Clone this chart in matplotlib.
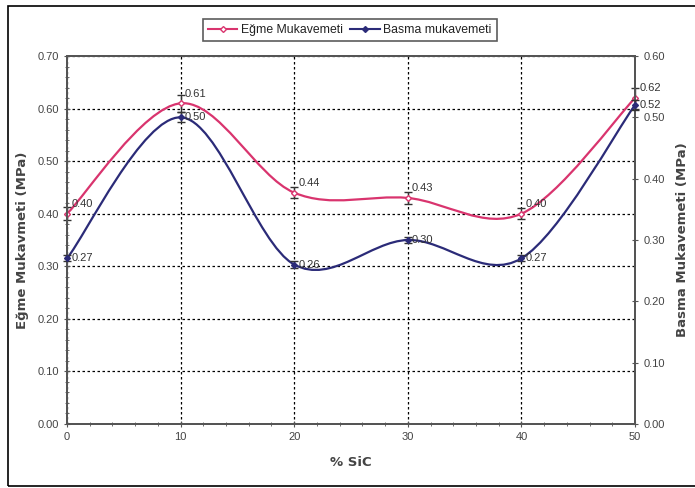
import matplotlib
matplotlib.use("Agg")
import matplotlib.pyplot as plt
from matplotlib.path import Path
from matplotlib.patches import PathPatch, Rectangle
from matplotlib.lines import Line2D
from matplotlib.ticker import MultipleLocator

plt.rcParams['font.family'] = ['Liberation Sans', 'DejaVu Sans']

# data
sic = [0, 10, 20, 30, 40, 50]
egme = [0.40, 0.61, 0.44, 0.43, 0.40, 0.62]
egme_err = [0.012, 0.016, 0.010, 0.012, 0.010, 0.020]
basma = [0.27, 0.50, 0.26, 0.30, 0.27, 0.52]
basma_err = [0.005, 0.008, 0.005, 0.005, 0.005, 0.008]
egme_labels = ['0.40', '0.61', '0.44', '0.43', '0.40', '0.62']
basma_labels = ['0.27', '0.50', '0.26', '0.30', '0.27', '0.52']

pink = '#d9346e'
navy = '#2b2b78'
grey = '#444444'


def smooth_path(xs, ys):
    # Excel-style smoothed line: cubic Bezier segments through the points
    verts = [(xs[0], ys[0])]
    codes = [Path.MOVETO]
    n = len(xs)
    for i in range(n - 1):
        x0, y0 = (xs[i - 1], ys[i - 1]) if i > 0 else (xs[i], ys[i])
        x1, y1 = xs[i], ys[i]
        x2, y2 = xs[i + 1], ys[i + 1]
        x3, y3 = (xs[i + 2], ys[i + 2]) if i + 2 < n else (x2, y2)
        c1 = (x1 + (x2 - x0) / 6, y1 + (y2 - y0) / 6)
        c2 = (x2 - (x3 - x1) / 6, y2 - (y3 - y1) / 6)
        verts += [c1, c2, (x2, y2)]
        codes += [Path.CURVE4] * 3
    return Path(verts, codes)


fig = plt.figure(figsize=(6.95, 4.88), dpi=100)
fig.patches.append(Rectangle((8 / 695, 2 / 488), 700 / 695, 480 / 488,
                             transform=fig.transFigure, fill=False,
                             edgecolor='black', linewidth=1.2))

ax = fig.add_axes([67 / 695, 64 / 488, 568 / 695, 368 / 488])
ax2 = ax.twinx()

ax.set_xlim(0, 50)
ax.set_ylim(0, 0.70)
ax2.set_ylim(0, 0.60)

ax.add_patch(PathPatch(smooth_path(sic, egme), fill=False, edgecolor=pink, linewidth=1.6, zorder=3))
ax2.add_patch(PathPatch(smooth_path(sic, basma), fill=False, edgecolor=navy, linewidth=1.6, zorder=3))

ax.errorbar(sic, egme, yerr=egme_err, fmt='D', ms=3, mfc='white', mec=pink,
            ecolor='#333333', elinewidth=1, capsize=3, clip_on=False, zorder=4)
ax2.errorbar(sic, basma, yerr=basma_err, fmt='D', ms=3, mfc=navy, mec=navy,
             ecolor='#333333', elinewidth=1, capsize=3, clip_on=False, zorder=4)

for x, y, t in zip(sic, egme, egme_labels):
    ax.annotate(t, (x, y), xytext=(3, 7), textcoords='offset points',
                fontsize=8, color='#333333', va='center', annotation_clip=False)
for x, y, t in zip(sic, basma, basma_labels):
    ax2.annotate(t, (x, y), xytext=(3, 0), textcoords='offset points',
                 fontsize=8, color='#333333', va='center', annotation_clip=False)

ax.set_xticks([0, 10, 20, 30, 40, 50])
ax.xaxis.set_minor_locator(MultipleLocator(2))
ax.set_yticks([i / 10 for i in range(8)])
ax.yaxis.set_minor_locator(MultipleLocator(0.02))
ax.set_yticklabels(['%.2f' % (i / 10) for i in range(8)])
ax2.set_yticks([i / 10 for i in range(7)])
ax2.set_yticklabels(['%.2f' % (i / 10) for i in range(7)])

ax.grid(True, which='major', color='black', linestyle=(0, (2, 2)), linewidth=0.9)
ax.set_axisbelow(True)

for a in (ax, ax2):
    for s in a.spines.values():
        s.set_color('#555555')
        s.set_linewidth(1.4)
    a.tick_params(which='both', direction='inout', colors='#555555', labelcolor=grey, labelsize=8)
    a.tick_params(which='major', length=5)
    a.tick_params(which='minor', length=3)

lab_font = dict(family='DejaVu Sans', fontsize=9.5, fontweight='bold', color=grey)
ax.set_xlabel('% SiC', labelpad=10, **lab_font)
ax.set_ylabel('Eğme Mukavmeti (MPa)', labelpad=6, **lab_font)
ax2.set_ylabel('Basma Mukavemeti (MPa)', rotation=90, labelpad=8, **lab_font)

handles = [
    Line2D([], [], color=pink, marker='D', ms=3, mfc='white', lw=1.5),
    Line2D([], [], color=navy, marker='D', ms=3, mfc=navy, lw=1.5),
]
leg = fig.legend(handles, ['Eğme Mukavemeti', 'Basma mukavemeti'], loc='center',
                 bbox_to_anchor=(350 / 695, 1 - 30 / 488), ncol=2, fontsize=8.8,
                 frameon=True, fancybox=False, handlelength=2.4, handletextpad=0.3,
                 columnspacing=0.6, borderpad=0.4)
leg.get_frame().set_edgecolor('#333333')
leg.get_frame().set_linewidth(1.2)
for t in leg.get_texts():
    t.set_color('#222222')

fig.savefig('out.png', dpi=100)
